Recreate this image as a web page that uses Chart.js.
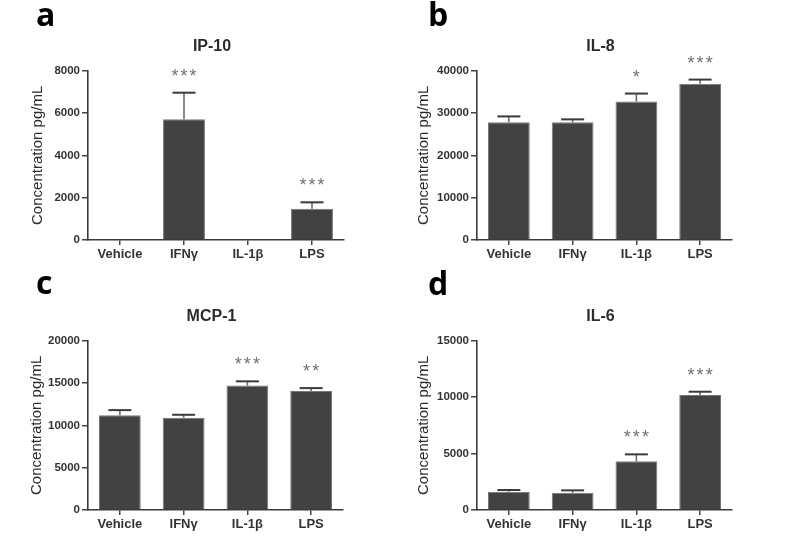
<!DOCTYPE html>
<html><head><meta charset="utf-8">
<script src="https://cdn.jsdelivr.net/npm/chart.js@4"></script>
<style>
body{margin:0;background:#fff}
#wrap{position:relative;width:787px;height:558px;background:#fff;overflow:hidden}
canvas{position:absolute;left:0;top:0}
</style>
</head><body><div id="wrap">
<canvas id="ca" width="787" height="558"></canvas>
<canvas id="cb" width="787" height="558"></canvas>
<canvas id="cc" width="787" height="558"></canvas>
<canvas id="cd" width="787" height="558"></canvas>
</div>
<script>
// ---- data ----
const categories = ['Vehicle', 'IFNγ', 'IL-1β', 'LPS'];

const ip10Values = [0, 5700, 0, 1480];
const ip10Sem    = [0, 1260, 0, 300];
const ip10Stars  = ['', '***', '', '***'];
const ip10Ticks  = [0, 2000, 4000, 6000, 8000];

const il8Values = [27800, 27800, 32700, 36900];
const il8Sem    = [1400, 700, 1900, 1000];
const il8Stars  = ['', '', '*', '***'];
const il8Ticks  = [0, 10000, 20000, 30000, 40000];

const mcp1Values = [11200, 10900, 14700, 14050];
const mcp1Sem    = [600, 350, 500, 350];
const mcp1Stars  = ['', '', '***', '**'];
const mcp1Ticks  = [0, 5000, 10000, 15000, 20000];

const il6Values = [1620, 1530, 4310, 10190];
const il6Sem    = [150, 210, 620, 290];
const il6Stars  = ['', '', '***', '***'];
const il6Ticks  = [0, 5000, 10000, 15000];

const panelLetters = ['a', 'b', 'c', 'd'];
const panelTitles = ['IP-10', 'IL-8', 'MCP-1', 'IL-6'];
const yAxisTitle = 'Concentration pg/mL';

// ---- layout ----
const W = 787, H = 558, XH = 30;
const panels = [
  {id:'ca', values:ip10Values, sem:ip10Sem, stars:ip10Stars, ticks:ip10Ticks, letter:panelLetters[0], title:panelTitles[0],
   px:0, area:{l:88, r:344, t:70.7, b:240}, letterPos:[36,26], ytp:28.5},
  {id:'cb', values:il8Values, sem:il8Sem, stars:il8Stars, ticks:il8Ticks, letter:panelLetters[1], title:panelTitles[1],
   px:390, area:{l:477, r:732, t:70.7, b:240}, letterPos:[428,26], ytp:25.3},
  {id:'cc', values:mcp1Values, sem:mcp1Sem, stars:mcp1Stars, ticks:mcp1Ticks, letter:panelLetters[2], title:panelTitles[2],
   px:0, area:{l:88, r:343, t:340.7, b:510}, letterPos:[36,294], ytp:28.3},
  {id:'cd', values:il6Values, sem:il6Sem, stars:il6Stars, ticks:il6Ticks, letter:panelLetters[3], title:panelTitles[3],
   px:390, area:{l:477, r:732, t:340.7, b:510}, letterPos:[428,295], ytp:25.3}
];

const decor = {
  id: 'decor',
  afterDatasetsDraw(chart, args, opts) {
    const ctx = chart.ctx;
    const y = chart.scales.y;
    const meta = chart.getDatasetMeta(0);
    const p = opts.panel;
    ctx.save();
    // error bars (upper only)
    meta.data.forEach((bar, i) => {
      const v = p.values[i], s = p.sem[i];
      if (!s) return;
      const top = y.getPixelForValue(v + s);
      const base = y.getPixelForValue(v);
      ctx.strokeStyle = '#6a6a6a';
      ctx.lineWidth = 1.6;
      ctx.beginPath(); ctx.moveTo(bar.x, base); ctx.lineTo(bar.x, top); ctx.stroke();
      ctx.strokeStyle = '#3a3a3a';
      ctx.lineWidth = 2;
      ctx.beginPath(); ctx.moveTo(bar.x - 11.5, top); ctx.lineTo(bar.x + 11.5, top); ctx.stroke();
    });
    // significance stars
    ctx.fillStyle = '#707070';
    ctx.font = '18px "Liberation Sans", Arial, sans-serif';
    ctx.textAlign = 'center';
    ctx.textBaseline = 'alphabetic';
    if ('letterSpacing' in ctx) ctx.letterSpacing = '2px';
    meta.data.forEach((bar, i) => {
      const st = p.stars[i];
      if (!st) return;
      const top = y.getPixelForValue(p.values[i] + p.sem[i]);
      ctx.fillText(st, bar.x + 1, top - 21 + 10);
    });
    if ('letterSpacing' in ctx) ctx.letterSpacing = '0px';
    // title
    const ca = chart.chartArea;
    ctx.fillStyle = '#2b2b2b';
    ctx.font = 'bold 16px "Liberation Sans", Arial, sans-serif';
    ctx.textBaseline = 'alphabetic';
    ctx.fillText(p.title, (ca.left + ca.right) / 2 - 4, ca.top - 20);
    // panel letter
    ctx.fillStyle = '#000';
    ctx.font = 'bold 32px "Open Sans", sans-serif';
    ctx.textAlign = 'left';
    ctx.fillText(p.letter, p.letterPos[0], p.letterPos[1]);
    ctx.restore();
  }
};

panels.forEach(p => {
  const a = p.area;
  const maxV = p.ticks[p.ticks.length - 1];
  const step = p.ticks[1] - p.ticks[0];
  new Chart(document.getElementById(p.id), {
    type: 'bar',
    data: {
      labels: categories,
      datasets: [{
        data: p.values,
        backgroundColor: '#424242',
        borderColor: '#777777',
        borderWidth: 1,
        barPercentage: 0.655,
        categoryPercentage: 1
      }]
    },
    options: {
      responsive: false,
      animation: false,
      events: [],
      layout: {padding: {left: p.px, top: a.t, right: W - a.r, bottom: H - a.b - XH}},
      plugins: {legend: {display: false}, tooltip: {enabled: false}, title: {display: false}, decor: {panel: p}},
      scales: {
        x: {
          offset: true,
          grid: {display: true, drawOnChartArea: false, offset: false, tickLength: 5, color: '#444', lineWidth: 1.5},
          border: {display: true, color: '#3a3a3a', width: 1.6},
          ticks: {color: '#333', padding: 2, font: {family: '"Liberation Sans", Arial, sans-serif', size: 13, weight: 'bold'}, maxRotation: 0, autoSkip: false},
          afterFit(s) { s.height = XH; }
        },
        y: {
          min: 0, max: maxV,
          afterBuildTicks(s) { s.ticks = p.ticks.map(v => ({value: v})); },
          grid: {display: true, drawOnChartArea: false, tickLength: 6, color: '#444', lineWidth: 1.5},
          border: {display: true, color: '#3a3a3a', width: 1.6},
          ticks: {color: '#333', padding: 2, stepSize: step, callback: v => String(v),
                  font: {family: '"Liberation Sans", Arial, sans-serif', size: 11.5, weight: 'bold'}},
          title: {display: true, text: yAxisTitle, color: '#2b2b2b', padding: {top: p.ytp, bottom: 0}, font: {family: '"Liberation Sans", Arial, sans-serif', size: 15}},
          afterFit(s) { s.width = a.l - p.px; }
        }
      }
    },
    plugins: [decor]
  });
});
</script>
</body></html>
